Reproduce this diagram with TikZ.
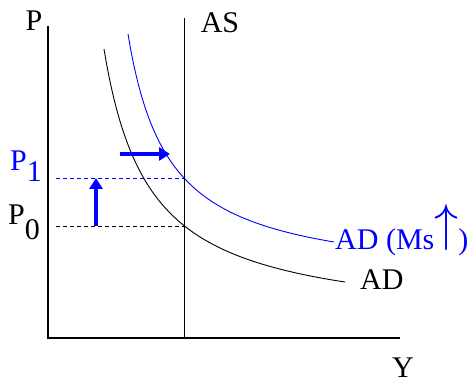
\documentclass[tikz,border=0pt]{standalone}
\usepackage{fontspec}
\setmainfont{Liberation Serif}
\usetikzlibrary{arrows.meta}

\begin{document}
\begin{tikzpicture}[
    x=1pt, y=1pt,
    axis/.style={draw, line width=1.4pt},
    supply/.style={draw, line width=1pt},
    curve/.style={draw, line width=0.9pt},
    level/.style={draw, line width=0.9pt, dash pattern=on 4pt off 3pt},
    move/.style={
        draw=blue,
        line width=4.5pt,
        -{Triangle[length=11pt,width=13pt]}
    },
    axislabel/.style={
        inner sep=0pt,
        font=\fontsize{30}{36}\selectfont
    }
]
    \useasboundingbox (0,0) rectangle (472,382);

    \coordinate (origin) at (48,44);
    \coordinate (ytop) at (48,356);
    \coordinate (xend) at (400,44);
    \coordinate (astop) at (184,364);
    \coordinate (asbase) at (184,44);

    \coordinate (pone) at (56,204);
    \coordinate (eqone) at (184,204);
    \coordinate (pzero) at (56,156);
    \coordinate (eqzero) at (184,156);

    \coordinate (risefrom) at (96,156);
    \coordinate (riseto) at (96,204);
    \coordinate (pushfrom) at (120,228);
    \coordinate (pushto) at (170,228);

    \draw[axis] (ytop) -- (origin) -- (xend);
    \draw[supply] (astop) -- (asbase);

    \draw[level] (pzero) -- (eqzero);
    \draw[level, blue] (pone) -- (eqone);

    \draw[curve] plot[domain=104:345, samples=80, smooth]
        (\x, {56+12600/(\x-58.5)});
    \draw[curve, blue] plot[domain=128:334, samples=80, smooth]
        (\x, {98.6+10225/(\x-87)});

    \draw[move] (risefrom) -- (riseto);
    \draw[move] (pushfrom) -- (pushto);

    \node[axislabel, anchor=base] (plabel) at (34,351) {P};
    \node[axislabel, anchor=base] (aslabel) at (220,349) {AS};
    \node[axislabel, anchor=base] (ylabel) at (403,4) {Y};
    \node[axislabel, anchor=base west, blue] (ponelabel) at (10,211)
        {P\raisebox{-11pt}{1}};
    \node[axislabel, anchor=base west] (pzerolabel) at (8,157)
        {P\raisebox{-15pt}{0}};
    \node[axislabel, anchor=base west, blue] (adnew) at (335,132)
        {AD (Ms\raisebox{9pt}{\resizebox*{24pt}{46pt}{$\uparrow$}})};
    \node[axislabel, anchor=base west] (adold) at (360,92) {AD};
\end{tikzpicture}
\end{document}
